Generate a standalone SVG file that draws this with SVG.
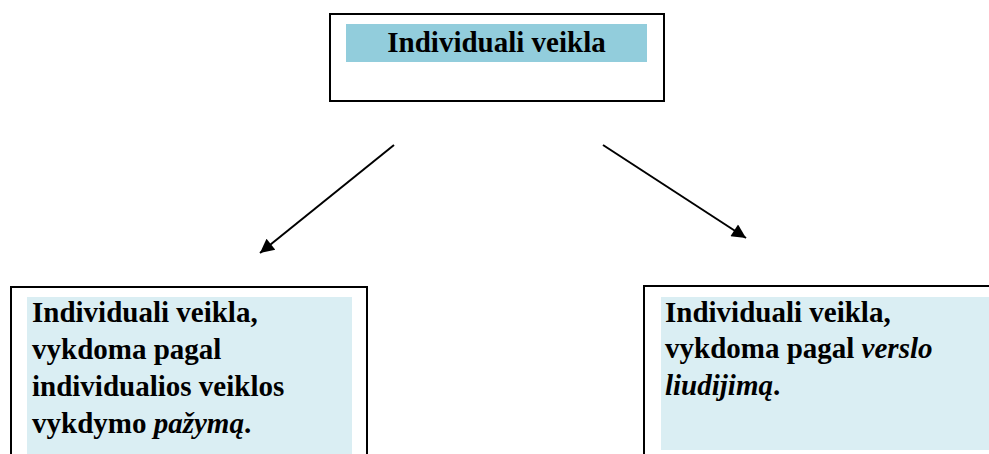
<svg xmlns="http://www.w3.org/2000/svg" width="989" height="454" viewBox="0 0 989 454">
<style>
.box{fill:#ffffff;stroke:#000000;stroke-width:2}
.t{font-family:"Liberation Serif","Times New Roman",serif;font-weight:bold;font-size:29px;fill:#000000}
.i{font-style:italic}
.conn{stroke:#000000;stroke-width:2;fill:none;marker-end:url(#ah)}
</style>
<defs>
<marker id="ah" viewBox="0 0 10 10" refX="10" refY="5" markerWidth="8" markerHeight="7" markerUnits="strokeWidth" orient="auto">
<path d="M0,0 L10,5 L0,10 z" fill="#000000"/>
</marker>
</defs>
<rect width="989" height="454" fill="#ffffff"/>
<g id="top">
<rect class="box" x="330" y="14" width="334" height="87"/>
<rect x="346" y="24" width="301" height="38" fill="#92cddc"/>
<text class="t" x="496.5" y="52" text-anchor="middle">Individuali veikla</text>
</g>
<g id="left">
<rect class="box" x="11" y="287" width="356" height="180"/>
<rect x="27" y="297" width="325" height="170" fill="#daeef3"/>
<text class="t" x="32" y="322">Individuali veikla,</text>
<text class="t" x="32" y="359">vykdoma pagal</text>
<text class="t" x="32" y="396">individualios veiklos</text>
<text class="t" x="32" y="433">vykdymo <tspan class="i">pažymą</tspan>.</text>
</g>
<g id="right">
<rect class="box" x="644" y="286" width="360" height="180"/>
<rect x="661" y="297" width="340" height="153" fill="#daeef3"/>
<text class="t" x="665" y="322">Individuali veikla,</text>
<text class="t" x="665" y="358">vykdoma pagal <tspan class="i">verslo</tspan></text>
<text class="t" x="665" y="395"><tspan class="i">liudijimą</tspan>.</text>
</g>
<g id="connectors">
<line class="conn" x1="394" y1="145" x2="260" y2="253"/>
<line class="conn" x1="603" y1="145" x2="746" y2="238"/>
</g>
</svg>
